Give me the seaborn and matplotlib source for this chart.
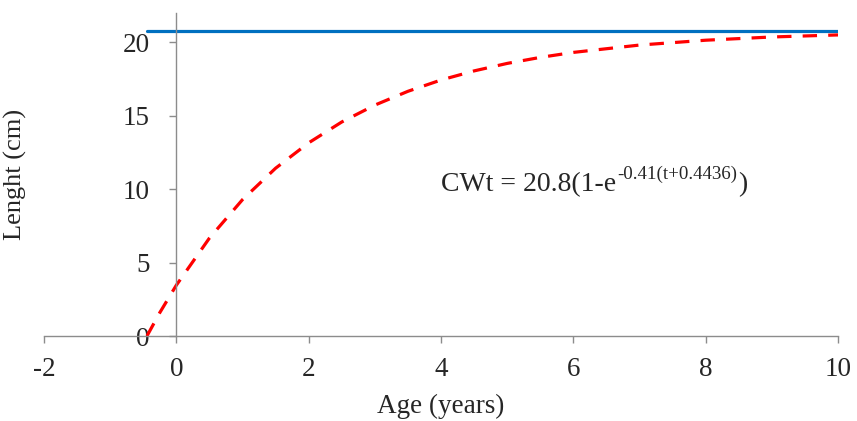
import numpy as np
import pandas as pd
import matplotlib
matplotlib.use("Agg")
import matplotlib.pyplot as plt
from matplotlib.transforms import offset_copy
import seaborn as sns

# growth curve
age = [-0.4436, -0.25, 0, 0.5, 1, 1.5, 2, 2.5, 3, 3.5, 4, 4.5, 5, 5.5, 6, 7, 8, 9, 10]
length = [0, 1.59, 3.46, 6.67, 9.29, 11.43, 13.16, 14.58, 15.73, 16.67, 17.44,
          18.06, 18.57, 18.98, 19.32, 19.82, 20.15, 20.37, 20.51]

# asymptotic length (L-infinity)
linf_age = [-0.4436, 10]
linf_len = [20.8, 20.8]

x_ticks = [-2, 0, 2, 4, 6, 8, 10]
y_ticks = [0, 5, 10, 15, 20]

sns.set_style("white")
plt.rcParams['font.family'] = ['Liberation Serif', 'DejaVu Serif']
plt.rcParams['axes.unicode_minus'] = False

df = pd.DataFrame({'age': age, 'length': length})
df_inf = pd.DataFrame({'age': linf_age, 'length': linf_len})

fig = plt.figure(figsize=(8.57, 4.21), dpi=100)
ax = fig.add_axes([0.0513, 0.2019, 0.9267, 0.7671])

sns.lineplot(data=df_inf, x='age', y='length', ax=ax, color='#0070C0', linewidth=2.3)
sns.lineplot(data=df, x='age', y='length', ax=ax, color='#FF0000', linewidth=2.3)
ax.lines[-1].set_dashes((4.5, 3.5))
ax.lines[-1].set_dash_capstyle('butt')

ax.set_xlim(-2, 10)
ax.set_ylim(0, 22)
ax.set_xticks(x_ticks)
ax.set_yticks(y_ticks)

ax.spines['left'].set_position(('data', 0))
ax.spines['bottom'].set_position(('data', 0))
ax.spines['top'].set_visible(False)
ax.spines['right'].set_visible(False)
for s in ['left', 'bottom']:
    ax.spines[s].set_color('#8c8c8c')
    ax.spines[s].set_linewidth(1.0)

ax.tick_params(axis='x', direction='out', length=5, width=1.0, color='#8c8c8c',
               pad=10, labelsize=19.5, bottom=True)
ax.tick_params(axis='y', direction='out', length=5, width=1.0, color='#8c8c8c',
               pad=14, labelsize=19.5, left=True)

ax.set_xlabel('Age (years)', fontsize=19.5)
ax.set_ylabel('Lenght (cm)', fontsize=19)
ax.xaxis.set_label_coords(0.5, -0.18)
ax.yaxis.set_label_coords(-0.021, 0.5, transform=ax.transAxes)

# equation: main text, raised exponent, closing bracket
t1 = ax.text(4.0, 9.9, 'CWt = 20.8(1-e', fontsize=20, ha='left', va='baseline')
fig.canvas.draw()
r = fig.canvas.get_renderer()
w1 = t1.get_window_extent(r).width * 72 / fig.dpi
t2 = ax.text(4.0, 9.9, '-0.41(t+0.4436)', fontsize=13.6, ha='left', va='baseline',
             transform=offset_copy(ax.transData, fig=fig, x=w1 + 1, y=8.5, units='points'))
w2 = t2.get_window_extent(r).width * 72 / fig.dpi
ax.text(4.0, 9.9, ')', fontsize=20, ha='left', va='baseline',
        transform=offset_copy(ax.transData, fig=fig, x=w1 + w2 + 1.5, y=0, units='points'))

fig.savefig('out.png', dpi=100)
